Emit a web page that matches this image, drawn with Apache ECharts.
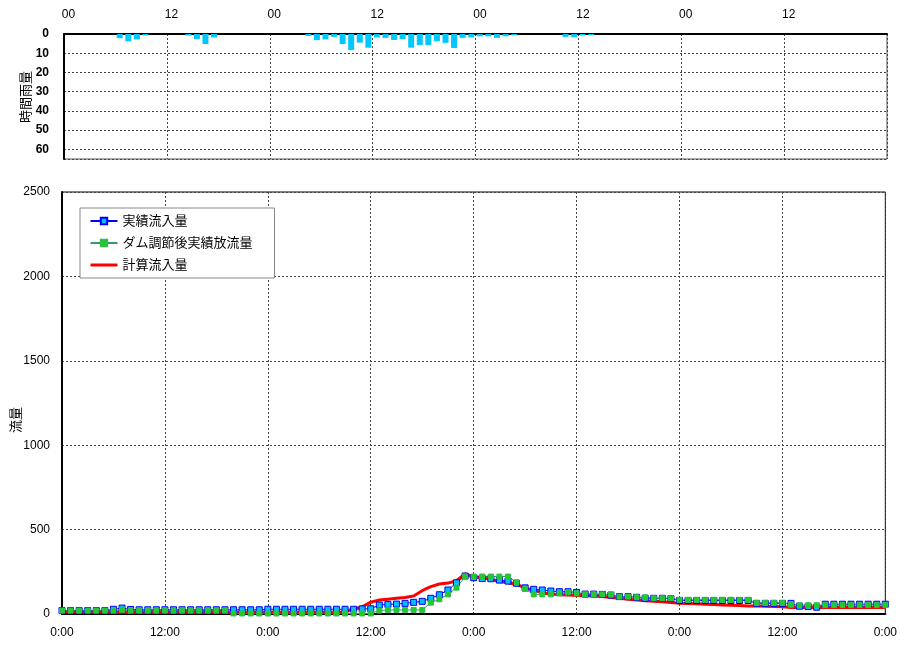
<!DOCTYPE html>
<html>
<head>
<meta charset="utf-8">
<script src="https://cdn.jsdelivr.net/npm/echarts@6/dist/echarts.min.js"></script>
<style>
html,body{margin:0;padding:0;background:#fff;}
#c{width:900px;height:645px;}
</style>
</head>
<body>
<div id="c"></div>
<script>
// Hourly rainfall (mm), bins for hours 0..95
const rain = [
  0,0,0,0,0,0,2.2,3.8,2.8,0.8,0,0,
  0,0,0.8,2.6,5.2,1.8,0,0,0,0,0,0,
  0,0,0,0,1,3.2,2.8,1.5,5.2,8.3,4.5,7.1,
  1.8,2,3.1,2.6,7.1,5.7,5.7,3.7,4.6,7.3,2,1.8,
  1.2,1.2,2,1.2,0.7,0,0,0,0,0,1.5,1.7,
  0.7,0.7,0,0,0,0,0,0,0,0,0,0,
  0,0,0,0,0,0,0,0,0,0,0,0,
  0,0,0,0,0,0,0,0,0,0,0,0
];
// Hourly discharge (m3/s), hours 0..96
const inflow = [
  20,20,20,20,20,20,28,35,27,25,25,25,
  25,25,25,25,25,25,25,25,25,25,25,25,
  28,28,28,28,28,28,28,28,28,28,28,30,
  31,53,57,59,63,69,75,93,114,142,185,225,
  215,210,209,201,195,182,155,146,142,136,132,132,
  128,118,118,116,112,103,103,99,93,93,93,91,
  80,80,80,80,80,80,80,80,80,63,63,63,
  63,63,46,44,40,58,58,58,58,58,58,58,
  58
];
const outflow = [
  20,20,20,20,20,20,20,25,20,20,20,20,
  20,20,20,20,20,20,20,20,3,3,3,3,
  3,3,3,3,3,3,3,3,3,3,3,3,
  3,20,24,24,24,24,24,67,87,116,156,221,
  222,222,222,222,222,188,148,116,116,116,122,128,
  122,116,116,116,116,103,103,99,99,93,93,93,
  84,84,84,84,84,84,84,84,84,66,66,66,
  66,55,52,52,52,53,53,53,53,53,53,53,
  53
];
const calc = [
  10,10,10,10,10,10,10,10,10,10,10,10,
  10,10,10,10,10,10,10,10,10,10,10,10,
  10,10,10,10,10,10,10,10,10,12,30,43,
  70,83,88,93,98,107,138,162,178,183,197,238,
  222,215,205,192,185,175,155,140,125,118,114,112,
  110,108,106,103,98,93,88,83,79,75,72,68,
  64,62,60,58,56,54,52,50,48,47,46,45,
  43,38,38,38,38,38,38,38,38,38,38,38,
  38
];
const seriesNames = ['実績流入量','ダム調節後実績放流量','計算流入量'];
const rainAxisName = '時間雨量';
const flowAxisName = '流量';

const FONT = "'Liberation Sans','Noto Sans CJK JP',sans-serif";
const gridLine = {show:true, lineStyle:{color:'#444', type:[2,2], width:1}};

const chart = echarts.init(document.getElementById('c'), null, {renderer:'canvas'});
chart.setOption({
  animation:false,
  textStyle:{fontFamily:FONT},
  grid:[
    {left:64, right:13, top:34, height:125, show:true, borderColor:'#555', borderWidth:1},
    {left:62, right:12, top:192, height:422, show:true, borderColor:'#000', borderWidth:1}
  ],
  legend:{
    data:[
      {name:seriesNames[0]},
      {name:seriesNames[1]},
      {name:seriesNames[2], itemStyle:{opacity:0}, lineStyle:{width:3, color:'#ff0000'}}
    ],
    orient:'vertical',
    left:80, top:208,
    padding:[6,22,6,9],
    itemGap:8,
    itemWidth:27, itemHeight:8,
    borderColor:'#888', borderWidth:1,
    backgroundColor:'#fff',
    textStyle:{fontSize:13, color:'#000', fontFamily:FONT, lineHeight:14}
  },
  xAxis:[
    {gridIndex:0, type:'value', min:0, max:96, interval:12, position:'top',
     axisLine:{show:true, lineStyle:{color:'#000', width:2}},
     axisTick:{show:false},
     axisLabel:{color:'#000', fontSize:12, margin:13, padding:[0,0,0,9],
       formatter:v=> v>=96 ? '' : (v%24===0 ? '00' : '12')},
     splitLine:gridLine},
    {gridIndex:1, type:'value', min:0, max:96, interval:12,
     axisLine:{show:true, lineStyle:{color:'#000', width:2}},
     axisTick:{show:false},
     axisLabel:{color:'#000', fontSize:12, margin:13,
       formatter:v=> v%24===0 ? '0:00' : '12:00'},
     splitLine:gridLine}
  ],
  yAxis:[
    {gridIndex:0, type:'value', inverse:true, min:0, max:65, interval:10,
     axisLine:{show:true, lineStyle:{color:'#000', width:2}},
     axisTick:{show:false},
     axisLabel:{color:'#000', fontSize:12, fontWeight:'bold', margin:15, formatter:v=> v%10===0 ? String(v) : ''},
     splitLine:gridLine},
    {gridIndex:1, type:'value', min:0, max:2500, interval:500,
     axisLine:{show:true, lineStyle:{color:'#000', width:2}},
     axisTick:{show:false},
     axisLabel:{color:'#000', fontSize:12, margin:12, formatter:v=> String(v)},
     splitLine:gridLine}
  ],
  graphic:[
    {type:'text', x:26, y:97, rotation:Math.PI/2,
     style:{text:rainAxisName, fontSize:13, fill:'#000', fontFamily:FONT, align:'center', verticalAlign:'middle'}},
    {type:'text', x:16, y:420, rotation:Math.PI/2,
     style:{text:flowAxisName, fontSize:13, fill:'#000', fontFamily:FONT, align:'center', verticalAlign:'middle'}}
  ],
  series:[
    {type:'bar', xAxisIndex:0, yAxisIndex:0, barWidth:6,
     itemStyle:{color:'#00c8ff'},
     data:rain.map((v,i)=>[i+0.5, v])},
    {name:seriesNames[0], type:'line', xAxisIndex:1, yAxisIndex:1,
     symbol:'rect', symbolSize:6,
     itemStyle:{color:'#00bfff', borderColor:'#0000ff', borderWidth:1},
     lineStyle:{color:'#0000ff', width:1},
     data:inflow.map((v,i)=>[i, v])},
    {name:seriesNames[1], type:'line', xAxisIndex:1, yAxisIndex:1,
     symbol:'rect', symbolSize:5,
     itemStyle:{color:'#22cc22', borderColor:'#33bb55', borderWidth:1},
     lineStyle:{color:'#339966', width:1},
     data:outflow.map((v,i)=>[i, v])},
    {name:seriesNames[2], type:'line', xAxisIndex:1, yAxisIndex:1,
     symbol:'none',
     itemStyle:{color:'#ff0000'},
     lineStyle:{color:'#ff0000', width:3},
     data:calc.map((v,i)=>[i, v])}
  ]
});
</script>
</body>
</html>
